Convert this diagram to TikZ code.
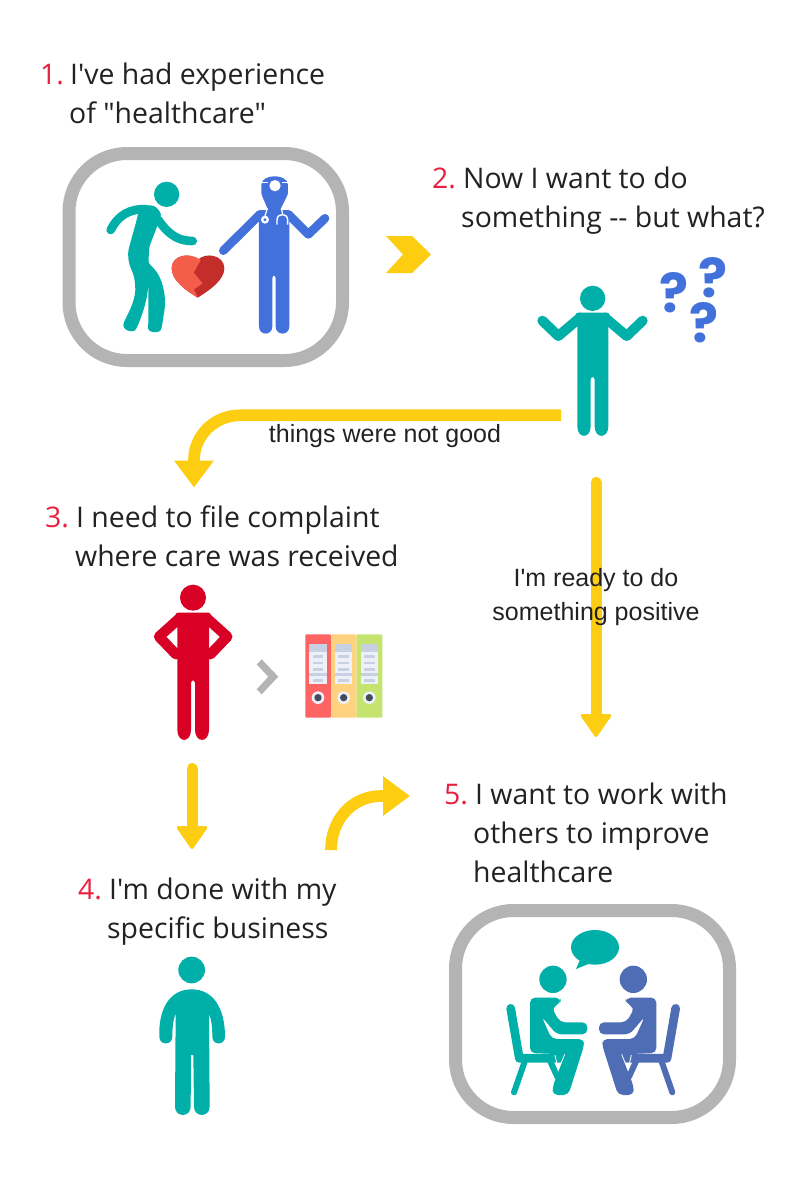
\documentclass[tikz,border=0pt]{standalone}
\usepackage{fontspec}
\setmainfont[Ligatures=TeXOff]{Open Sans}
\newfontfamily\labelfont{Liberation Sans}
\newfontfamily\markfont{Poppins}[BoldFont={Poppins Bold}]
\usetikzlibrary{arrows.meta}
\definecolor{teal1}{HTML}{00B0A8}
\definecolor{blue1}{HTML}{4371DB}
\definecolor{blue2}{HTML}{4F6DB5}
\definecolor{red1}{HTML}{D90026}
\definecolor{numred}{HTML}{E8203F}
\definecolor{ink}{HTML}{222222}
\definecolor{gold}{HTML}{FCCD10}
\definecolor{frame1}{HTML}{B4B4B4}
\definecolor{heartdark}{HTML}{C42E2A}
\definecolor{heartlight}{HTML}{F45D4A}
\definecolor{binderred}{HTML}{FF6464}
\definecolor{binderorange}{HTML}{FFD27F}
\definecolor{bindergreen}{HTML}{C4E46F}
\definecolor{binderpaper}{HTML}{EDF0F8}
\definecolor{binderband}{HTML}{C8D0E4}
\definecolor{binderdot}{HTML}{454A5C}
\tikzset{
 heading/.style={anchor=base west,inner sep=0pt,text=ink,align=left,font=\fontsize{28.4}{39}\selectfont},
 num/.style={anchor=base west,inner sep=0pt,text=numred,font=\fontsize{28.4}{39}\selectfont},
 edgelabel/.style={inner sep=0pt,text=ink,align=center,font=\labelfont\fontsize{25}{34}\selectfont},
 qmark/.style={inner sep=0pt,text=blue1,font=\markfont\bfseries\fontsize{54}{54}\selectfont},
 goldarrow/.style={draw=gold,line width=11.7pt,-{Triangle[length=27pt,width=38pt,fill=gold]}},
 goldstraight/.style={draw=gold,line width=11pt,line cap=round,-{Triangle[round,length=24pt,width=32.5pt,line width=3pt,fill=gold]}},
 roundframe/.style={draw=frame1,line width=13pt,rounded corners=58pt,fill=white},
 limb/.style={line width=#1,line cap=round,line join=round},
 limb/.default=10pt
}
\newcommand{\seatedfig}[1]{%
  % chair
  \draw[#1,line width=8.7pt,line cap=round,line join=round] (212,340) -- (238,490) -- (360,490);
  \draw[#1,line width=6pt,line cap=round] (255,497) -- (222,592);
  \draw[#1,line width=6pt,line cap=round] (330,497) -- (352,545);
  % head
  \fill[#1] (339,253) circle (41);
  % body
  \fill[#1,rounded corners=5pt] (270,308) -- (362,308) -- (362,325) -- (335,338) -- (360,382) -- (442,382) -- (442,418) -- (350,418) -- (305,365) -- (335,432) -- (432,432) -- (432,452) -- (385,600) -- (338,600) -- (338,575) -- (374,478) -- (270,474) -- cycle;
  \draw[white,line width=.8pt] (345,480) -- (355,525) -- (374,478);
}
\begin{document}
\begin{tikzpicture}[x=1pt,y=-1pt]
\useasboundingbox (0,0) rectangle (800,1200);
\fill[white] (0,0) rectangle (800,1200);

% frames
\draw[roundframe] (69,153.5) rectangle (342.5,360.5);
\draw[roundframe] (455.5,910.5) rectangle (729.5,1117.5);

% ---------- scene 1
\begin{scope}[shift={(60,140)},scale=1/3]
  \fill[teal1] (320,163) circle (38);
  \draw[teal1,limb=8.7pt] (152,270) .. controls (175,225) and (210,205) .. (260,208);
  \draw[teal1,limb=8.7pt] (295,240) .. controls (330,290) and (360,303) .. (398,303);
  \fill[teal1,rounded corners=3pt] (240,195) -- (285,197) -- (305,222) -- (288,268) -- (268,320) -- (265,370)
     .. controls (300,400) and (315,440) .. (315,500) -- (306,558)
     .. controls (300,582) and (262,580) .. (265,552) -- (265,430)
     .. controls (262,480) and (248,520) .. (232,560)
     .. controls (220,582) and (182,570) .. (195,540)
     .. controls (215,500) and (228,470) .. (225,430)
     .. controls (220,390) and (203,380) .. (205,330) -- (230,240) -- cycle;
  % heart
  \fill[heartdark] (413,473) .. controls (375,450) and (335,420) .. (335,385)
     .. controls (335,345) and (390,335) .. (413,360)
     .. controls (436,335) and (493,345) .. (493,385)
     .. controls (493,420) and (450,450) .. (413,473) -- cycle;
  \fill[heartlight] (413,473) .. controls (375,450) and (335,420) .. (335,385)
     .. controls (335,345) and (390,335) .. (422,360) -- (401,398) -- (428,430) -- (402,448) -- cycle;
  % doctor
  \draw[blue1,limb=8.7pt] (490,332) -- (600,223);
  \draw[blue1,limb=8.7pt] (685,223) -- (745,283) -- (795,235);
  \fill[blue1,rounded corners=3pt] (597,210) -- (688,210) -- (688,550) .. controls (688,588) and (647,588) .. (647,550) -- (647,405) -- (637,405) -- (637,550) .. controls (637,588) and (597,588) .. (597,550) -- cycle;
  \fill[blue1] (604,135) .. controls (604,100) and (684,100) .. (684,135) -- (684,160) .. controls (675,185) and (665,195) .. (660,215) -- (625,215) .. controls (620,195) and (612,185) .. (604,160) -- cycle;
  \draw[white,line width=1.3pt] (604,128) -- (625,128) (665,128) -- (684,128);
  \fill[white] (645,137) circle (17);
  \draw[white,line width=1.2pt] (622,205) -- (615,228);
  \draw[white,line width=1.2pt] (664,205) -- (668,222);
  \fill[white] (615,239) circle (12);
  \fill[blue1] (615,239) circle (5);
  \draw[white,line width=1.4pt] (651,254) -- (651,240) .. controls (651,218) and (683,218) .. (683,240) -- (683,254);
\end{scope}

% ---------- question person
\begin{scope}[shift={(520,250)},scale=1/3]
  \fill[teal1] (218,145) circle (38);
  \draw[teal1,limb=10pt] (180,203) -- (115,258) -- (67,212);
  \draw[teal1,limb=10pt] (255,203) -- (320,258) -- (368,212);
  \fill[teal1,rounded corners=3pt] (165,188) -- (270,188) -- (265,220) -- (265,520) .. controls (265,567) and (224,567) .. (224,520) -- (224,380) -- (212,380) -- (212,520) .. controls (212,567) and (172,567) .. (172,520) -- (172,220) -- cycle;
\end{scope}
\node[qmark] (q1) at (674,293) {?};
\node[qmark] (q2) at (713,278) {?};
\node[qmark] (q3) at (704,323) {?};

% ---------- red person and binders
\begin{scope}[shift={(140,575)},scale=1/3]
  \fill[red1] (159,68) circle (39);
  \draw[red1,limb=10.3pt] (118,130) -- (57,185) -- (108,238);
  \draw[red1,limb=10.3pt] (201,130) -- (262,185) -- (211,238);
  \fill[red1,rounded corners=3pt] (105,113) -- (214,113) -- (207,150) -- (207,455) .. controls (207,505) and (165,505) .. (165,455) -- (165,315) -- (153,315) -- (153,455) .. controls (153,505) and (112,505) .. (112,455) -- (112,150) -- cycle;
  \fill[frame1] (350,268) -- (365,253) -- (415,305) -- (365,358) -- (350,343) -- (385,305) -- cycle;
  \foreach \bx/\bc in {496/binderred,573/binderorange,650/bindergreen}{
    \fill[\bc,rounded corners=1pt] (\bx,178) rectangle +(77,250);
    \fill[binderpaper] (\bx+12,208) rectangle +(52,120);
    \fill[binderband] (\bx+12,208) rectangle +(52,22);
    \fill[binderband] (\bx+12,295) rectangle +(52,7);
    \foreach \ly in {241,260,279,312}{
      \fill[binderband] (\bx+22,\ly) rectangle +(32,8);
    }
    \fill[binderpaper] (\bx+38,368) circle (19);
    \fill[binderdot] (\bx+38,368) circle (11);
  }
\end{scope}

% ---------- person 4
\begin{scope}[shift={(130,945)},scale=1/3]
  \fill[teal1] (185,75) circle (40);
  \fill[teal1] (88,275) .. controls (85,190) and (120,133) .. (185,133) .. controls (250,133) and (285,190) .. (285,275)
    .. controls (285,302) and (247,302) .. (247,275) .. controls (247,250) and (245,225) .. (237,205)
    -- (239,485) .. controls (239,518) and (192,518) .. (192,485) -- (190,330) -- (183,330) -- (182,485)
    .. controls (182,518) and (135,518) .. (135,485) -- (137,205)
    .. controls (129,225) and (127,250) .. (127,275) .. controls (127,302) and (88,302) .. (88,275) -- cycle;
\end{scope}

% ---------- seated pair
\begin{scope}[shift={(440,895)},scale=1/3]
  \fill[teal1] (465,157) ellipse (72 and 52);
  \fill[teal1] (420,195) -- (408,222) -- (450,205) -- cycle;
  \seatedfig{teal1}
\end{scope}
\begin{scope}[shift={(440,895)},xshift=919/3*1pt,xscale=-1/3,yscale=1/3]
  \seatedfig{blue2}
\end{scope}

% ---------- headings
\node[num] (n1) at (40,84) {1.};
\node[heading] (h1) at (70,84) {I've had experience};
\node[heading] (h1b) at (69,123) {of "healthcare"};
\node[num] (n2) at (432,188) {2.};
\node[heading] (h2) at (463,188) {Now I want to do};
\node[heading] (h2b) at (461,227) {something -- but what?};
\node[num] (n3) at (45,527) {3.};
\node[heading] (h3) at (76,527) {I need to file complaint};
\node[heading] (h3b) at (75,566) {where care was received};
\node[num] (n4) at (78,899) {4.};
\node[heading] (h4) at (109,899) {I'm done with my};
\node[heading] (h4b) at (107,938) {specific business};
\node[num] (n5) at (444,804) {5.};
\node[heading] (h5) at (475,804) {I want to work with};
\node[heading] (h5b) at (473,843) {others to improve};
\node[heading] (h5c) at (473,882) {healthcare};

% ---------- connectors
\coordinate (a2s) at (561,415.3);
\coordinate (a2b) at (240,415.3);
\coordinate (a2m) at (194,460);
\coordinate (a2e) at (194,487.5);
\draw[goldarrow] (a2s) -- (a2b) .. controls (214,415.3) and (194,436) .. (a2m) -- (a2e);

\coordinate (a3s) at (596,482.5);
\coordinate (a3e) at (596,737);
\draw[goldstraight] (a3s) -- (a3e);

\coordinate (a4s) at (192,768.5);
\coordinate (a4e) at (192,849);
\draw[goldstraight] (a4s) -- (a4e);

\coordinate (a5s) at (331,850);
\coordinate (a5m) at (381,796);
\coordinate (a5e) at (410,796);
\draw[goldarrow] (a5s) .. controls (331,820) and (352,796) .. (a5m) -- (a5e);

% chevron between scenes 1 and 2
\fill[gold] (386,236) -- (412,236) -- (431,254.5) -- (412,273) -- (386,273) -- (403,254.5) -- cycle;

% ---------- connector labels
\node[edgelabel,anchor=base] (l1) at (385,442) {things were not good};
\node[edgelabel,anchor=base] (l2) at (596,586) {I'm ready to do};
\node[edgelabel,anchor=base] (l3) at (596,620) {something positive};
\end{tikzpicture}
\end{document}
